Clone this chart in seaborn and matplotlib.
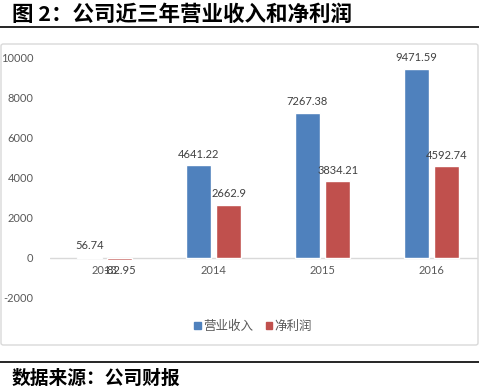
import matplotlib
matplotlib.use("Agg")
import matplotlib.pyplot as plt
import seaborn as sns
import pandas as pd
from matplotlib.lines import Line2D
from matplotlib.patches import FancyBboxPatch
import matplotlib.transforms as mtrans

years = ["2013", "2014", "2015", "2016"]
revenue = [56.74, 4641.22, 7267.38, 9471.59]
net_profit = [-82.95, 2662.9, 3834.21, 4592.74]
series_names = ["营业收入", "净利润"]
yticks = [-2000, 0, 2000, 4000, 6000, 8000, 10000]

df = pd.DataFrame({
    "year": years * 2,
    "series": [series_names[0]] * 4 + [series_names[1]] * 4,
    "value": revenue + net_profit,
})

sns.set_style("white")
plt.rcParams["font.family"] = ["Lato", "Noto Sans CJK SC", "DejaVu Sans"]

W, H = 479, 388
fig = plt.figure(figsize=(W / 100, H / 100), dpi=100)

def fx(px):
    return px / W

def fy(py):
    return 1 - py / H

ax_left, ax_right = 50, 486
ax_top, ax_bot = 58, 298
ax = fig.add_axes([fx(ax_left), fy(ax_bot), fx(ax_right - ax_left), (ax_bot - ax_top) / H])

sns.barplot(data=df, x="year", y="value", hue="series", hue_order=series_names,
            palette=["#4F81BD", "#C0504D"], saturation=1, width=0.56, gap=0.18, ax=ax,
            legend=False, errorbar=None)

ax.set_ylim(-2000, 10000)
ax.set_xlim(-0.5, 3.5)
ax.set_yticks(yticks)
ax.set_yticklabels([str(v) for v in yticks])
ax.set_xlabel("")
ax.set_ylabel("")
for s in ax.spines.values():
    s.set_visible(False)
ax.tick_params(axis="both", length=0, colors="#595959", labelsize=8)
ax.tick_params(axis="y", pad=12)
ax.axhline(0, color="#D9D9D9", lw=1, zorder=0, xmax=0.98)
ax.set_xticks(range(len(years)))
ax.set_xticklabels([])
off = mtrans.ScaledTranslation(0, -7 / 100, fig.dpi_scale_trans)
for i, y in enumerate(years):
    ax.text(i, 0, y, ha="center", va="top", fontsize=8, color="#595959",
            transform=ax.transData + off)

for cont in ax.containers:
    ax.bar_label(cont, labels=[f"{v:g}" for v in cont.datavalues], padding=4,
                 fontsize=8, color="#404040")

# legend
handles = [plt.Rectangle((0, 0), 1, 1, color=c) for c in ["#4F81BD", "#C0504D"]]
fig.legend(handles, series_names, loc="center", bbox_to_anchor=(fx(253), fy(326)),
           ncol=2, frameon=False, fontsize=9, handlelength=0.5, handleheight=0.5,
           handletextpad=0.2, columnspacing=1.0, labelcolor="#595959")

# chart border
border = FancyBboxPatch((fx(1), fy(345)), fx(477), (345 - 44) / H,
                        boxstyle="round,pad=0,rounding_size=0.005",
                        transform=fig.transFigure, fill=False, ec="#D9D9D9", lw=1)
fig.patches.append(border)

# title, rules, source
fig.text(fx(12), fy(14), "图 2：公司近三年营业收入和净利润", ha="left", va="center",
         fontsize=15.5, fontweight="bold", family=["Noto Sans CJK SC"], color="black")
fig.add_artist(Line2D([0, 1], [fy(27), fy(27)], color="black", lw=1.2, transform=fig.transFigure))
fig.add_artist(Line2D([0, 1], [fy(362), fy(362)], color="black", lw=1.2, transform=fig.transFigure))
fig.text(fx(12), fy(378), "数据来源：公司财报", ha="left", va="center",
         fontsize=13.5, fontweight="bold", family=["Noto Sans CJK SC"], color="black")

fig.savefig("out.png", dpi=100)
